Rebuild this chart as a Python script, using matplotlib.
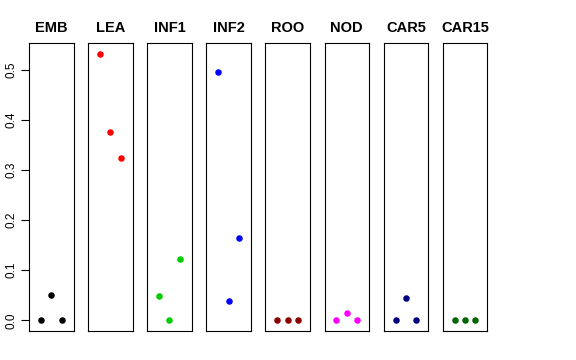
import matplotlib.pyplot as plt

plt.rcParams['font.family'] = ['Liberation Sans', 'DejaVu Sans']

# Panel names and colours
panels = ["EMB", "LEA", "INF1", "INF2", "ROO", "NOD", "CAR5", "CAR15"]
colors = ["black", "#FF0000", "#00CD00", "#0000FF", "#8B0000", "#FF00FF", "#000080", "#006400"]

# Three values per panel (x = 1, 2, 3)
xs = [1, 2, 3]
emb = [0.0, 0.050, 0.0]
lea = [0.532, 0.375, 0.323]
inf1 = [0.048, 0.0, 0.122]
inf2 = [0.496, 0.038, 0.165]
roo = [0.0, 0.0, 0.0]
nod = [0.0, 0.014, 0.0]
car5 = [0.0, 0.044, 0.0]
car15 = [0.0, 0.0, 0.0]
values = [emb, lea, inf1, inf2, roo, nod, car5, car15]

yticks = [0.0, 0.1, 0.2, 0.3, 0.4, 0.5]

W, H = 576, 360
fig = plt.figure(figsize=(W / 100, H / 100), dpi=100)

ymax = max(max(v) for v in values)
ylo, yhi = -0.04 * ymax, ymax * 1.04

for i, (name, col, vals) in enumerate(zip(panels, colors, values)):
    left = 29 + i * 59.1
    ax = fig.add_axes([left / W, 1 - 331 / H, 44.5 / W, 288 / H])
    ax.scatter(xs, vals, s=22, color=col, linewidths=0, zorder=3)
    ax.set_xlim(-0.16, 4.16)
    ax.set_ylim(ylo, yhi)
    ax.set_xticks([])
    for s in ax.spines.values():
        s.set_linewidth(0.8)
        s.set_color("black")
    ax.set_title(name, fontsize=10.5, fontweight="bold", pad=8)
    if i == 0:
        ax.set_yticks(yticks)
        ax.set_yticklabels([f"{t:.1f}" for t in yticks], rotation=90, va="center", fontsize=8.5)
        ax.tick_params(axis="y", length=6, width=0.8, pad=2)
    else:
        ax.set_yticks([])

fig.savefig("out.png", dpi=100)
